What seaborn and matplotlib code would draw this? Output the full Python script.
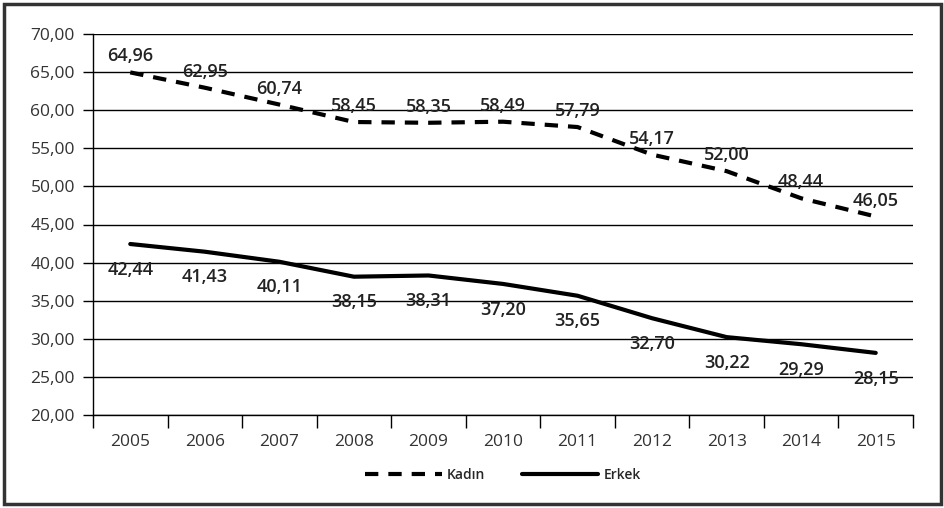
import pandas as pd
import matplotlib
matplotlib.use('Agg')
import matplotlib.pyplot as plt
import seaborn as sns
from matplotlib.patches import Rectangle
from matplotlib.ticker import FixedLocator, FuncFormatter

# Veriler
years = ['2005', '2006', '2007', '2008', '2009', '2010', '2011', '2012', '2013', '2014', '2015']
kadin = [64.96, 62.95, 60.74, 58.45, 58.35, 58.49, 57.79, 54.17, 52.00, 48.44, 46.05]
erkek = [42.44, 41.43, 40.11, 38.15, 38.31, 37.20, 35.65, 32.70, 30.22, 29.29, 28.15]

df = pd.DataFrame({'pos': range(len(years)), 'year': years, 'Kadın': kadin, 'Erkek': erkek})

sns.set_style('white')
plt.rcParams['font.family'] = ['Open Sans', 'DejaVu Sans']

fig = plt.figure(figsize=(9.45, 5.08), dpi=100)
ax = fig.add_axes([93 / 945, 1 - 415 / 508, (913 - 93) / 945, (415 - 34) / 508])

sns.lineplot(data=df, x='pos', y='Kadın', ax=ax, color='black', linewidth=3,
             dashes=False, label='Kadın')
sns.lineplot(data=df, x='pos', y='Erkek', ax=ax, color='black', linewidth=3,
             label='Erkek')
ax.lines[0].set_dashes((3.2, 2.4))

def fmt(v):
    return f'{v:.2f}'.replace('.', ',')

# Değer etiketleri
for i, v in enumerate(kadin):
    ax.annotate(fmt(v), (i, v), xytext=(0, 5), textcoords='offset points',
                ha='center', va='bottom', fontsize=13, fontweight='semibold', color='#222')
for i, v in enumerate(erkek):
    ax.annotate(fmt(v), (i, v), xytext=(0, -12), textcoords='offset points',
                ha='center', va='top', fontsize=13, fontweight='semibold', color='#222')

ax.set_xlim(-0.5, len(years) - 0.5)
ax.set_ylim(20, 70)
ax.set_yticks(range(20, 71, 5))
ax.yaxis.set_major_formatter(FuncFormatter(lambda v, p: fmt(v)))
ax.grid(axis='y', color='black', linewidth=1)
ax.tick_params(axis='y', length=7, width=1, color='black', pad=6,
               labelsize=12.5, labelcolor='#333', left=True)

ax.xaxis.set_major_locator(FixedLocator([i - 0.5 for i in range(len(years) + 1)]))
ax.xaxis.set_minor_locator(FixedLocator(list(range(len(years)))))
ax.set_xticklabels([], minor=False)
ax.set_xticklabels(years, minor=True)
ax.tick_params(axis='x', which='major', length=9, width=1, color='black', bottom=True)
ax.tick_params(axis='x', which='minor', length=0, pad=14, labelsize=12.5, labelcolor='#333')
ax.set_xlabel('')
ax.set_ylabel('')

for s in ['top', 'right']:
    ax.spines[s].set_visible(False)
for s in ['left', 'bottom']:
    ax.spines[s].set_color('black')
    ax.spines[s].set_linewidth(1)

ax.legend(loc='upper center', bbox_to_anchor=(0.5, -0.105), ncol=2, frameon=False,
          handlelength=5.5, handletextpad=0.4, columnspacing=2.6,
          prop={'weight': 'semibold', 'size': 10})

fig.patches.append(Rectangle((4 / 945, 4 / 508), 937 / 945, 500 / 508, transform=fig.transFigure,
                             fill=False, edgecolor='#333', linewidth=2.5))

fig.savefig('out.png', dpi=100)
